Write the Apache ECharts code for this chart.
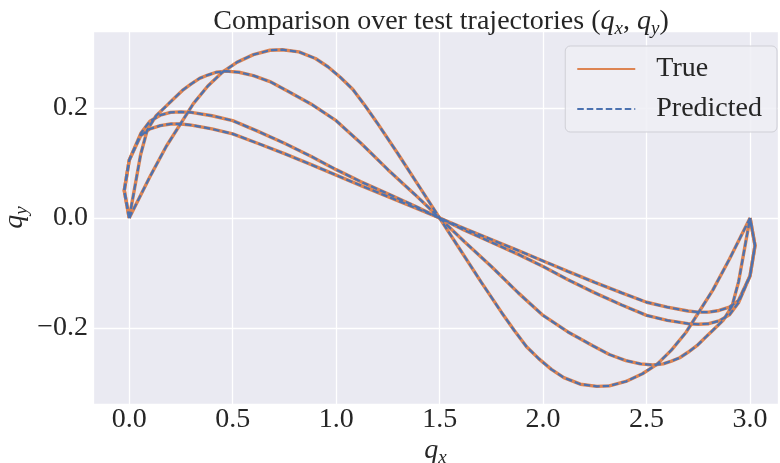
<!DOCTYPE html>
<html>
<head>
<meta charset="utf-8">
<script src="https://cdn.jsdelivr.net/npm/echarts@6/dist/echarts.min.js"></script>
<style>
html,body{margin:0;padding:0;background:#ffffff;}
#chart{width:780px;height:463px;}
</style>
</head>
<body>
<div id="chart"></div>
<script>
// ---- data: test trajectories, [q_x, q_y] pairs ----
const trueA = [[0,0],[0.1,0.075],[0.18,0.131],[0.31,0.208],[0.38,0.24],[0.45,0.265],[0.52,0.283],[0.6,0.297],[0.68,0.305],[0.74,0.306],[0.82,0.302],[0.9,0.29],[0.96,0.275],[1.02,0.256],[1.08,0.234],[1.14,0.204],[1.2,0.172],[1.3,0.116],[1.4,0.058],[1.5,0],
  [1.6,-0.058],[1.7,-0.116],[1.8,-0.172],[1.86,-0.204],[1.92,-0.234],[1.98,-0.256],[2.04,-0.275],[2.1,-0.29],[2.18,-0.302],[2.26,-0.306],[2.32,-0.305],[2.4,-0.297],[2.48,-0.283],[2.55,-0.266],[2.62,-0.24],[2.69,-0.208],[2.82,-0.131],[2.9,-0.075],[3.0,0]];
const trueB = [[0,0],[0.024,0.05],[0.055,0.115],[0.087,0.16],[0.13,0.186],[0.177,0.203],[0.21,0.215],[0.257,0.232],[0.3,0.244],[0.34,0.254],[0.38,0.26],[0.42,0.265],[0.47,0.267],[0.53,0.265],[0.6,0.259],[0.68,0.248],[0.76,0.232],[0.88,0.207],[1.0,0.177],[1.12,0.136],[1.25,0.088],[1.38,0.043],[1.5,0],
  [1.62,-0.043],[1.75,-0.088],[1.88,-0.136],[2.0,-0.177],[2.12,-0.207],[2.24,-0.232],[2.32,-0.248],[2.4,-0.259],[2.47,-0.265],[2.53,-0.267],[2.58,-0.265],[2.62,-0.26],[2.66,-0.254],[2.7,-0.244],[2.743,-0.232],[2.79,-0.215],[2.823,-0.203],[2.87,-0.186],[2.913,-0.16],[2.945,-0.115],[2.976,-0.05],[3.0,0]];
const trueC = [[0,0],[-0.024,0.05],[0,0.105],[0.056,0.154],[0.1,0.176],[0.15,0.187],[0.2,0.192],[0.25,0.193],[0.3,0.192],[0.4,0.186],[0.5,0.177],[0.62,0.158],[0.75,0.136],[0.88,0.112],[1.0,0.088],[1.12,0.066],[1.25,0.044],[1.38,0.022],[1.5,0],
  [1.62,-0.022],[1.75,-0.044],[1.88,-0.066],[2.0,-0.088],[2.12,-0.112],[2.25,-0.136],[2.38,-0.158],[2.5,-0.177],[2.6,-0.186],[2.7,-0.192],[2.75,-0.193],[2.8,-0.192],[2.85,-0.187],[2.9,-0.176],[2.944,-0.154],[3.0,-0.105],[3.024,-0.05],[3.0,0]];
const trueD = [[0,0],[-0.024,0.05],[0,0.105],[0.056,0.15],[0.1,0.162],[0.15,0.168],[0.2,0.171],[0.25,0.171],[0.3,0.169],[0.4,0.162],[0.5,0.153],[0.62,0.136],[0.75,0.117],[0.88,0.097],[1.0,0.078],[1.12,0.059],[1.25,0.039],[1.38,0.019],[1.5,0],
  [1.62,-0.019],[1.75,-0.039],[1.88,-0.059],[2.0,-0.078],[2.12,-0.097],[2.25,-0.117],[2.38,-0.136],[2.5,-0.153],[2.6,-0.162],[2.7,-0.169],[2.75,-0.171],[2.8,-0.171],[2.85,-0.168],[2.9,-0.162],[2.944,-0.15],[3.0,-0.105],[3.024,-0.05],[3.0,0]];

const predA = [[0,0],[0.1,0.075],[0.18,0.131],[0.31,0.208],[0.38,0.24],[0.45,0.265],[0.52,0.283],[0.6,0.297],[0.68,0.305],[0.74,0.306],[0.82,0.302],[0.9,0.29],[0.96,0.275],[1.02,0.256],[1.08,0.234],[1.14,0.204],[1.2,0.172],[1.3,0.116],[1.4,0.058],[1.5,0],
  [1.6,-0.058],[1.7,-0.116],[1.8,-0.172],[1.86,-0.204],[1.92,-0.234],[1.98,-0.256],[2.04,-0.275],[2.1,-0.29],[2.18,-0.302],[2.26,-0.306],[2.32,-0.305],[2.4,-0.297],[2.48,-0.283],[2.55,-0.266],[2.62,-0.24],[2.69,-0.208],[2.82,-0.131],[2.9,-0.075],[3.0,0]];
const predB = [[0,0],[0.024,0.05],[0.055,0.115],[0.087,0.16],[0.13,0.186],[0.177,0.203],[0.21,0.215],[0.257,0.232],[0.3,0.244],[0.34,0.254],[0.38,0.26],[0.42,0.265],[0.47,0.267],[0.53,0.265],[0.6,0.259],[0.68,0.248],[0.76,0.232],[0.88,0.207],[1.0,0.177],[1.12,0.136],[1.25,0.088],[1.38,0.043],[1.5,0],
  [1.62,-0.043],[1.75,-0.088],[1.88,-0.136],[2.0,-0.177],[2.12,-0.207],[2.24,-0.232],[2.32,-0.248],[2.4,-0.259],[2.47,-0.265],[2.53,-0.267],[2.58,-0.265],[2.62,-0.26],[2.66,-0.254],[2.7,-0.244],[2.743,-0.232],[2.79,-0.215],[2.823,-0.203],[2.87,-0.186],[2.913,-0.16],[2.945,-0.115],[2.976,-0.05],[3.0,0]];
const predC = [[0,0],[-0.024,0.05],[0,0.105],[0.056,0.154],[0.1,0.176],[0.15,0.187],[0.2,0.192],[0.25,0.193],[0.3,0.192],[0.4,0.186],[0.5,0.177],[0.62,0.158],[0.75,0.136],[0.88,0.112],[1.0,0.088],[1.12,0.066],[1.25,0.044],[1.38,0.022],[1.5,0],
  [1.62,-0.022],[1.75,-0.044],[1.88,-0.066],[2.0,-0.088],[2.12,-0.112],[2.25,-0.136],[2.38,-0.158],[2.5,-0.177],[2.6,-0.186],[2.7,-0.192],[2.75,-0.193],[2.8,-0.192],[2.85,-0.187],[2.9,-0.176],[2.944,-0.154],[3.0,-0.105],[3.024,-0.05],[3.0,0]];
const predD = [[0,0],[-0.024,0.05],[0,0.105],[0.056,0.15],[0.1,0.162],[0.15,0.168],[0.2,0.171],[0.25,0.171],[0.3,0.169],[0.4,0.162],[0.5,0.153],[0.62,0.136],[0.75,0.117],[0.88,0.097],[1.0,0.078],[1.12,0.059],[1.25,0.039],[1.38,0.019],[1.5,0],
  [1.62,-0.019],[1.75,-0.039],[1.88,-0.059],[2.0,-0.078],[2.12,-0.097],[2.25,-0.117],[2.38,-0.136],[2.5,-0.153],[2.6,-0.162],[2.7,-0.169],[2.75,-0.171],[2.8,-0.171],[2.85,-0.168],[2.9,-0.162],[2.944,-0.15],[3.0,-0.105],[3.024,-0.05],[3.0,0]];

const trueSet = [trueA, trueB, trueC, trueD];
const predSet = [predA, predB, predC, predD];
const xRange = [-0.175, 3.135];
const yRange = [-0.338, 0.340];

// ---- styling ----
const FONT = "'Liberation Serif','DejaVu Serif',serif";
const INK = '#262626';
const ORANGE = '#DD8452';
const BLUE = '#4C72B0';

const mathRich = {
  t: {fontFamily: FONT, fontSize: 28, fontWeight: 'normal', color: INK},
  i: {fontFamily: FONT, fontSize: 28, fontWeight: 'normal', fontStyle: 'italic', color: INK},
  s: {fontFamily: FONT, fontSize: 19, fontWeight: 'normal', fontStyle: 'italic', color: INK, padding: [14, 0, 0, 0]}
};
const axisRich = {
  i: {fontFamily: FONT, fontSize: 28, fontStyle: 'italic', color: INK},
  s: {fontFamily: FONT, fontSize: 19, fontStyle: 'italic', color: INK, padding: [14, 0, 0, 0]}
};

const fmt = v => v.toFixed(1).replace('-', '\u2212');

const series = [];
for (let k = 0; k < trueSet.length; k++) {
  series.push({
    name: 'True', type: 'line', data: trueSet[k], showSymbol: false, symbol: 'none',
    lineStyle: {color: ORANGE, width: 3.4}, itemStyle: {color: ORANGE}, z: 2, silent: true, animation: false
  });
}
for (let k = 0; k < predSet.length; k++) {
  series.push({
    name: 'Predicted', type: 'line', data: predSet[k], showSymbol: false, symbol: 'none',
    lineStyle: {color: BLUE, width: 2.2, type: [6.5, 3]}, itemStyle: {color: BLUE}, z: 3, silent: true, animation: false
  });
}

const chart = echarts.init(document.getElementById('chart'), null, {renderer: 'canvas'});
chart.setOption({
  animation: false,
  backgroundColor: '#ffffff',
  title: {
    text: '{t|Comparison over test trajectories }{t|(}{i|q}{s|x}{t|, }{i|q}{s|y}{t|)}',
    left: 436, top: 0, textAlign: 'center',
    textStyle: {fontWeight: 'normal', rich: mathRich}
  },
  legend: {
    data: ['True', 'Predicted'],
    orient: 'vertical',
    right: 3, top: 46,
    itemWidth: 58, itemHeight: 14, itemGap: 10,
    padding: [8, 15, 8, 11],
    itemStyle: {opacity: 0},
    backgroundColor: 'rgba(238,238,244,0.85)',
    borderColor: '#cfcfd6', borderWidth: 1, borderRadius: 5,
    textStyle: {fontFamily: FONT, fontSize: 28, color: INK, lineHeight: 30, padding: [0, 0, 0, 16]}
  },
  grid: {left: 93, right: 2, top: 31, bottom: 59, show: true, backgroundColor: '#EAEAF2', borderWidth: 0, outerBoundsMode: 'none', containLabel: false},
  xAxis: {
    type: 'value', min: xRange[0], max: xRange[1], splitNumber: 7,
    axisLine: {show: false}, axisTick: {show: false},
    splitLine: {show: true, lineStyle: {color: '#ffffff', width: 1.3}},
    axisLabel: {formatter: fmt, fontFamily: FONT, fontSize: 28, color: INK, margin: 2, showMinLabel: false, showMaxLabel: false},
    name: '{i|q}{s|x}', nameLocation: 'middle', nameGap: 30, nameMoveOverlap: false,
    nameTextStyle: {rich: axisRich}
  },
  yAxis: {
    type: 'value', min: yRange[0], max: yRange[1], splitNumber: 3,
    axisLine: {show: false}, axisTick: {show: false},
    splitLine: {show: true, lineStyle: {color: '#ffffff', width: 1.3}},
    axisLabel: {formatter: fmt, fontFamily: FONT, fontSize: 28, color: INK, margin: 5, showMinLabel: false, showMaxLabel: false},
    name: '{i|q}{s|y}', nameLocation: 'middle', nameGap: 62, nameRotate: 90, nameMoveOverlap: false,
    nameTextStyle: {rich: axisRich}
  },
  series: series
});
</script>
</body>
</html>
